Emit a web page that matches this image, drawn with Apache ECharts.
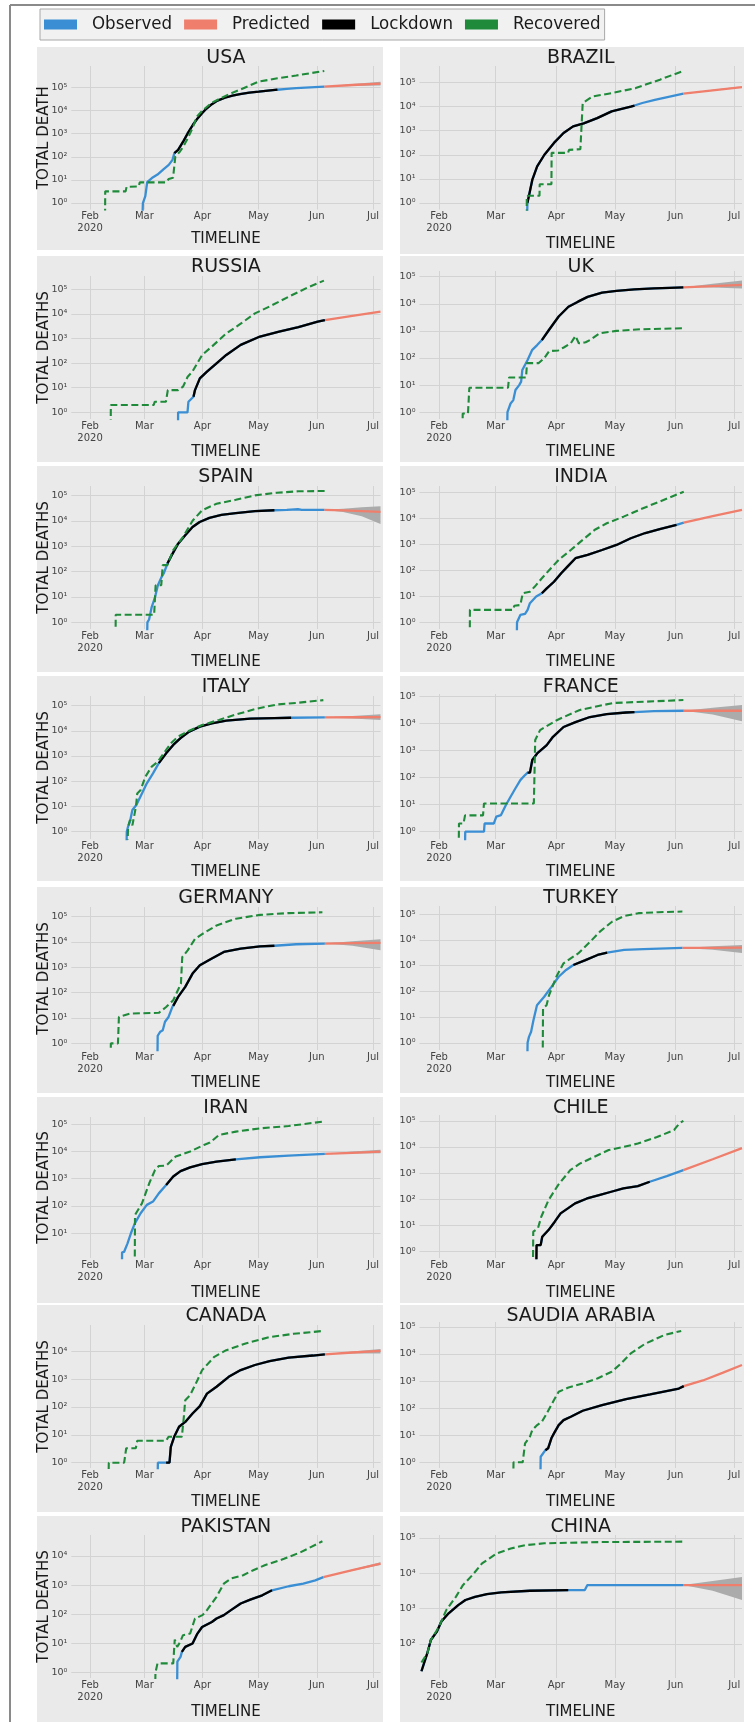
<!DOCTYPE html>
<html><head><meta charset="utf-8">
<script src="https://cdn.jsdelivr.net/npm/echarts@6/dist/echarts.min.js"></script>
<style>html,body{margin:0;padding:0;background:#fff}#c{width:755px;height:1722px}</style>
</head><body><div id="c"></div>
<script>
// x values: days since 2020-02-01 ; y values: cumulative counts
const DAY0 = Date.UTC(2020, 1, 1);
const countries = ['USA','BRAZIL','RUSSIA','UK','SPAIN','INDIA','ITALY','FRANCE','GERMANY','TURKEY','IRAN','CHILE','CANADA','SAUDIA ARABIA','PAKISTAN','CHINA'];
const seriesNames = ['Observed','Predicted','Lockdown','Recovered'];
const monthLabels = ['Jan','Feb\n2020','Mar','Apr','May','Jun','Jul','Aug'];
const lockdownStart = [45, 45.2, 55.2, 52.6, 41.3, 52.6, 36.7, 45.3, 44.4, 68.7, 40.6, 49.7, 40.6, 54.4, 49, -9];
const lockdownEnd   = [100, 100, 125.3, 125, 98.4, 121.5, 107.3, 100, 98.4, 86, 77.8, 107.8, 125.3, 125.2, 97.1, 66.1];

const USA_obs = [[27.8,0.1],[28.2,1],[29.5,2],[30.5,8],[33,12],[36,17],[39,28],[42,45],[44,74],[45,145],[47,200],[50,500],[52,1000],[55,2500],[57,4200],[60,8000],[62,12000],[65,19000],[68,27000],[72,36000],[76,44000],[80,52000],[85,60000],[90,66000],[95,73000],[100,80000],[105,87000],[110,93000],[115,98000],[120,103000],[125,108000]];
const USA_rec = [[8,0.1],[8.1,3.2],[19,3.2],[19.5,5],[26,5.2],[26.5,7.8],[40.5,7.8],[42,11],[44.3,12.5],[45.5,100],[48,170],[50,300],[52,600],[55,2000],[57,5500],[60,10000],[65,22000],[70,35000],[75,55000],[80,80000],[85,120000],[90,180000],[95,210000],[100,250000],[110,330000],[118,420000],[125,520000]];
const USA_pred = [[125,108000],[140,128000],[155,148000]];
const USA_band = [[125,108000,108000],[140,115000,140000],[155,122000,175000]];

const BRAZIL_obs = [[45,0.1],[45.2,1],[46,2],[47.7,9],[50.2,33],[53.9,100],[58.8,310],[63.7,800],[68.6,1500],[74,2000],[80.9,3300],[88.3,6300],[98.1,10000],[100,11000],[104,14000],[110.4,19000],[118,26000],[125,34000]];
const BRAZIL_rec = [[44.8,0.1],[44.9,2],[51.4,2],[51.5,6],[57.5,6],[57.6,120],[66,120],[66.5,160],[72.3,170],[73.5,14000],[78.5,26000],[88.3,36000],[100.6,58000],[113,130000],[125,300000]];
const BRAZIL_pred = [[125,34000],[140,47000],[155,64000]];
const BRAZIL_band = [[125,34000,34000],[140,45000,49000],[155,59000,69000]];

const RUSSIA_obs = [[46.9,0.1],[47,1],[52,1],[52.5,2.7],[55.2,4.3],[56,8],[58.6,24],[62.4,45],[67.5,98],[72.7,215],[80.4,550],[90.7,1200],[100.9,1900],[111.2,2900],[121.5,4900],[125.3,5600]];
const RUSSIA_rec = [[11,0.1],[11.1,2],[34,2],[34.5,2.7],[40.5,2.7],[41.5,8],[47,8],[49.6,11],[52.1,28],[54.6,45],[57.2,98],[59.8,215],[65,470],[72.7,1600],[80.4,4000],[88,10500],[95.8,20000],[106,50000],[116.3,120000],[124.8,225000]];
const RUSSIA_pred = [[125.3,5600],[140,8300],[155,12300]];
const RUSSIA_band = [[125.3,5600,5600],[140,8000,8600],[155,11500,13200]];

const UK_obs = [[34.8,0.1],[35,1],[36.6,2.1],[38,2.8],[39.1,6.6],[41,10],[42,13.5],[42.6,36],[45.3,85],[47.7,200],[50.2,300],[52.6,460],[56.3,1100],[61.2,3400],[66.2,7800],[71.1,12000],[76,18000],[83.4,26000],[90.8,30000],[100,34000],[110,37000],[118,39000],[125,40500]];
const UK_rec = [[12,0.1],[12.1,0.9],[14.8,0.9],[15.5,8],[35.3,8],[35.8,19],[44.5,19],[45,65],[51,65],[53.9,100],[56.3,180],[61,190],[64,250],[67.4,350],[69.8,650],[71.5,350],[75,380],[77.2,460],[82.1,820],[90.8,1000],[103,1150],[125,1250]];
const UK_pred = [[125,40500],[140,45000],[155,50000]];
const UK_band = [[125,40500,40500],[140,40000,55000],[155,37000,72000]];

const SPAIN_obs = [[30.4,0.1],[30.6,1],[31.5,1.3],[32.9,4],[34.7,10],[36.2,29],[38,58],[39.3,84],[41.3,207],[43.1,380],[47,1260],[50.8,2700],[54.7,5700],[58.5,9000],[63.7,13000],[70.1,17000],[77.8,20000],[88,24000],[98.4,26000],[105,27000],[111,28500],[113,27100],[125,27100]];
const SPAIN_rec = [[13.6,0.1],[13.7,2],[34.2,2],[35,29],[38,29],[38.8,180],[41.3,180],[44.4,700],[49.6,2300],[54.7,10000],[59.8,26000],[67.5,47000],[77.8,67000],[88,100000],[99.6,127000],[111.2,145000],[125.3,150000]];
const SPAIN_pred = [[125,27100],[135,25500],[145,24000],[155,22500]];
const SPAIN_band = [[125,27100,27100],[135,22000,30000],[145,15000,34000],[155,7500,37000]];

const INDIA_obs = [[39.7,0.1],[39.9,1],[41.6,1.9],[44,2.1],[45.3,3],[46.5,5.4],[49.7,9.7],[52.6,13],[55.1,20],[58.8,36],[62.5,77],[65.7,138],[69.8,290],[76,390],[83.4,600],[90.8,940],[98.1,1700],[105.5,2700],[112.9,3800],[121.5,5600],[125.2,6800]];
const INDIA_rec = [[15.7,0.1],[15.8,3],[37.9,3],[38.5,4.3],[41.6,4.6],[42.8,13],[46.5,15],[49,23.5],[52.6,49],[56.3,100],[61.2,250],[67.4,600],[73.5,1470],[79.7,3600],[85.8,6400],[94.4,11500],[103,22000],[112.9,44000],[125.2,105000]];
const INDIA_pred = [[125.2,6800],[140,12000],[155,21000]];
const INDIA_band = [[125.2,6800,6800],[140,11700,12300],[155,20000,22000]];

const ITALY_obs = [[19.4,0.1],[19.6,1],[20.3,1.6],[21.3,2.5],[22.6,7.2],[24.7,11.4],[27.7,33],[30.3,83],[33.6,205],[36.7,520],[40.6,1280],[44.4,2750],[48.3,5100],[52.9,9300],[58.6,14600],[65,19800],[72.7,25300],[85.5,30500],[98.4,32000],[107.3,33000],[125.3,34000]];
const ITALY_rec = [[19.8,0.1],[20.3,1.6],[21.3,2.9],[22.6,1.8],[23.5,4],[24.5,10],[25.2,33],[27,45],[29.5,150],[32.9,380],[36.2,600],[39.3,1280],[43.1,3200],[47,5900],[52.9,10000],[59.8,17000],[68.8,27000],[77.8,44000],[88,73000],[99.6,110000],[111.2,130000],[124.5,165000]];
const ITALY_pred = [[125.3,34000],[140,34500],[155,35000]];
const ITALY_band = [[125.3,34000,34000],[140,30500,39000],[155,27000,45000]];

const FRANCE_obs = [[13.2,0.1],[13.4,1],[23,1],[23.3,2],[28,2],[29.3,3.6],[31.7,4.1],[34.2,9.6],[36.6,19.5],[39.1,40],[41.6,80],[44,123],[45.3,150],[46.5,150],[47.7,440],[50.2,770],[55.1,1560],[58.3,3170],[63.7,7300],[69.8,11000],[77.2,17000],[85.8,21700],[95.7,25000],[100,26000],[110,28000],[125.2,29000]];
const FRANCE_rec = [[10,0.1],[10.2,2],[12.5,2],[13.3,4],[22.5,4],[23,11],[48.5,11],[49.2,2400],[51.7,5600],[60.2,13000],[72,31000],[89,56000],[106.4,63000],[125,72000]];
const FRANCE_pred = [[125.2,29000],[140,29000],[155,29000]];
const FRANCE_band = [[125.2,29000,29000],[140,21000,37000],[155,12000,47000]];

const GERMANY_obs = [[35.9,0.1],[36.1,2],[37.5,2.9],[38.8,3.3],[40,7.1],[41.9,11],[43.9,27],[44.4,30],[47,68],[50.8,168],[54.7,560],[58.6,1190],[65,2200],[71.4,4000],[80.4,5400],[90.7,6600],[98.4,7000],[110,8000],[125.3,8500]];
const GERMANY_rec = [[11,0.1],[11.1,1],[14.9,1],[15.4,11],[21.3,15],[36.7,16],[40.6,27],[44.4,50],[48.5,225],[49.2,2500],[52.1,4600],[56,13000],[59.8,20000],[67.5,44000],[77.8,81000],[90.7,115000],[106,135000],[124,145000]];
const GERMANY_pred = [[125.3,8500],[140,8800],[155,9000]];
const GERMANY_band = [[125.3,8500,8500],[140,7000,10500],[155,4700,12500]];

const TURKEY_obs = [[45.1,0.1],[45.3,1],[46,1.7],[47.1,2.7],[48.3,7.6],[50.1,29],[53.8,62],[57.5,150],[61.2,370],[65,680],[68.7,1060],[74.9,1650],[81.1,2600],[86,3200],[94.7,4100],[104.6,4400],[124.5,4900]];
const TURKEY_rec = [[53,0.1],[53.2,22],[55,29],[56.3,72],[60,370],[63.7,1240],[71.2,3000],[77.4,8600],[82.3,21000],[88.5,51000],[94.7,85000],[102,110000],[112,120000],[124.5,127000]];
const TURKEY_pred = [[124.5,4900],[140,4950],[155,5000]];
const TURKEY_band = [[124.5,4900,4900],[140,4200,5700],[155,3100,6300]];

const IRAN_obs = [[16.9,0.1],[17.1,2],[18.2,2.1],[20,4.3],[21.8,10],[23.9,23],[27,54],[30.3,110],[33.6,145],[36.7,290],[40.6,590],[44.4,1200],[48.3,1900],[53.4,2600],[59.8,3400],[67.5,4200],[77.8,5100],[90.7,6100],[106,7000],[125.3,8100]];
const IRAN_rec = [[23.8,0.1],[24,47],[27.7,125],[31.6,680],[34.7,2100],[36.7,2900],[40.6,3000],[45.7,6500],[53.4,9900],[61.1,17600],[64,21000],[68.8,40000],[77.8,53000],[90.7,70000],[106,85000],[124,123000]];
const IRAN_pred = [[125.3,8100],[140,8900],[155,9800]];
const IRAN_band = [[125.3,8100,8100],[140,8400,9900],[155,8500,11500]];

const CHILE_obs = [[49.7,0.1],[49.9,1.8],[52,1.8],[52.8,3.7],[56,6.7],[59.2,14],[62.2,29],[65.9,45],[69.6,70],[75.7,108],[81.9,145],[88.1,195],[94.3,260],[101.7,320],[107.8,470],[116.5,770],[125,1300]];
const CHILE_rec = [[48,0.1],[48.2,5.8],[50.6,7.8],[52.3,21.7],[56,93],[60.9,350],[67.1,1300],[72,2300],[79.4,4200],[86.8,7600],[94.3,10000],[101.7,13500],[111.5,24000],[120.2,44000],[121.4,57000],[123,80000],[125,100000]];
const CHILE_pred = [[125,1300],[140,3400],[155,9000]];
const CHILE_band = [[125,1300,1300],[140,3300,3500],[155,8600,9400]];

const CANADA_obs = [[36,0.1],[36.2,1],[40.6,1],[42.4,1],[43.1,3.7],[44.9,8.5],[47.5,19.5],[50.8,29],[54.7,58],[58.6,107],[62.4,300],[67.5,530],[74,1200],[80.4,2100],[88,3200],[95.8,4400],[106,5900],[118.9,7000],[125.3,7700]];
const CANADA_rec = [[9.8,0.1],[10,1],[18.2,1],[19.3,3.3],[24.4,3.3],[25.2,6.1],[40.6,6.1],[41.9,8.5],[49,8.5],[50,40],[50.8,175],[53.4,265],[57.3,910],[59.8,2100],[66.3,6300],[72.7,10900],[83,19000],[95.8,32000],[108.6,42000],[124,53000]];
const CANADA_pred = [[125.3,7700],[140,9000],[155,10200]];
const CANADA_band = [[125.3,7700,7700],[140,8300,9700],[155,8300,12000]];

const SAUDI_obs = [[51.8,0.1],[52,1.6],[54.4,2.8],[55.8,3.3],[57.6,8.1],[58.8,11.7],[61.2,23.7],[63.7,36],[67.4,48],[73.5,80],[83.4,130],[95.7,215],[108,320],[122.7,530],[125.2,650]];
const SAUDI_rec = [[37.9,0.1],[38.1,1],[42.8,1],[44,5],[46.5,8.8],[47.7,15.5],[50.2,23.7],[52.6,31.5],[55.1,64],[58.8,200],[61.2,400],[66.2,580],[73.5,810],[81,1250],[88.3,2200],[93.2,4500],[98.1,10500],[105.5,24000],[115.3,50000],[123.9,71000]];
const SAUDI_pred = [[125.2,650],[135,1050],[145,2000],[155,3900]];
const SAUDI_band = [[125.2,650,650],[135,1030,1070],[145,1950,2050],[155,3750,4050]];

const PAKISTAN_obs = [[46.4,0.1],[46.6,2.4],[48.3,3.5],[49,5.2],[50.8,7.7],[54.7,10],[57.3,22],[59.8,37],[65,55],[67.5,72],[71.4,94],[75.2,140],[80.4,235],[85.5,320],[91.9,450],[97.1,670],[106,920],[113.8,1140],[120.2,1470],[124.5,1900]];
const PAKISTAN_rec = [[34.7,0.1],[34.9,1],[36,2.1],[44.4,2.1],[45.2,13.8],[46.5,7.7],[48,11],[49.6,19.4],[53.4,22],[56,72],[60,94],[62.4,140],[67.5,400],[71.4,1130],[75.2,1700],[81.7,2200],[86.8,3200],[93.2,4800],[103.5,8000],[112.5,13600],[124,32000]];
const PAKISTAN_pred = [[124.5,1900],[140,3300],[155,5500]];
const PAKISTAN_band = [[124.5,1900,1900],[140,3150,3450],[155,4900,6100]];

const CHINA_obs = [[-9,17],[-6,55],[-4.2,130],[-1.2,220],[1.2,430],[4.9,740],[9.8,1260],[13.5,1750],[18.4,2150],[24.5,2560],[31.8,2860],[46.5,3200],[66.1,3330],[74.6,3342],[75.9,4632],[124.8,4634]];
const CHINA_rec = [[-9,30],[-6,55],[-4.2,130],[0,310],[3.7,910],[8.6,2150],[12.2,4600],[17.1,8900],[22,19000],[29.4,36000],[36.7,50000],[44.1,62000],[53.8,70000],[83.2,76000],[124.8,78000]];
const CHINA_pred = [[124.8,4634],[140,4634],[155,4634]];
const CHINA_band = [[124.8,4634,4634],[140,3200,6000],[155,1750,7800]];

// lookup tables built from the named arrays
const OBS  = [USA_obs,BRAZIL_obs,RUSSIA_obs,UK_obs,SPAIN_obs,INDIA_obs,ITALY_obs,FRANCE_obs,GERMANY_obs,TURKEY_obs,IRAN_obs,CHILE_obs,CANADA_obs,SAUDI_obs,PAKISTAN_obs,CHINA_obs];
const REC  = [USA_rec,BRAZIL_rec,RUSSIA_rec,UK_rec,SPAIN_rec,INDIA_rec,ITALY_rec,FRANCE_rec,GERMANY_rec,TURKEY_rec,IRAN_rec,CHILE_rec,CANADA_rec,SAUDI_rec,PAKISTAN_rec,CHINA_rec];
const PRED = [USA_pred,BRAZIL_pred,RUSSIA_pred,UK_pred,SPAIN_pred,INDIA_pred,ITALY_pred,FRANCE_pred,GERMANY_pred,TURKEY_pred,IRAN_pred,CHILE_pred,CANADA_pred,SAUDI_pred,PAKISTAN_pred,CHINA_pred];
const BAND = [USA_band,BRAZIL_band,RUSSIA_band,UK_band,SPAIN_band,INDIA_band,ITALY_band,FRANCE_band,GERMANY_band,TURKEY_band,IRAN_band,CHILE_band,CANADA_band,SAUDI_band,PAKISTAN_band,CHINA_band];

// ---------- layout (pixels) ----------
const rowTop    = [47, 256, 466, 676, 887, 1097, 1305, 1516];
const rowBottom = [250, 462, 672, 881, 1093, 1303, 1512, 1722];
const colPanel  = [[37, 346], [400, 344]];
const colPlot   = [[71.3, 309.2], [419.5, 322.5]];
const plotTop    = [66,66, 276,271, 486,486, 696,694, 907,906, 1117,1115, 1325,1322, 1535,1535];
const plotBottom = [209.5,209.5, 419,419, 629,629, 839,839, 1050,1050, 1258,1258, 1468,1468, 1678,1678];
const logRange = [[-0.28,5.93],[-0.27,5.68],[-0.27,5.54],[-0.25,5.21],[-0.26,5.37],[-0.26,5.24],[-0.29,5.38],[-0.27,5.08],
                  [-0.26,5.37],[-0.28,5.32],[0.095,5.26],[-0.24,5.22],[-0.19,4.94],[-0.21,5.18],[-0.18,4.72],[1.04,5.08]];
const timelineGap = [22,27,26,26,26,26,26,26,26,26,28,28,27,27,27,27];

const COL = {obs:'#3A8FD4', pred:'#EF7F6C', lock:'#000000', rec:'#1F8A3A', band:'#ABABAB', grid:'#D3D3D3', panel:'#EAEAEA'};
const FONT = 'DejaVu Sans';
const DAY = 86400000;
const t = d => DAY0 + d * DAY;
const SUP = ['\u2070','\u00B9','\u00B2','\u00B3','\u2074','\u2075','\u2076'];

function fmtX(v) {
  const d = new Date(v);
  if (d.getUTCDate() !== 1 || d.getUTCHours() !== 0) return '';
  return monthLabels[d.getUTCMonth()] || '';
}
function fmtY(v) {
  const e = Math.log10(v), r = Math.round(e);
  if (Math.abs(e - r) > 1e-6 || r < 0) return '';
  return '10' + SUP[r];
}

const grids = [], xAxes = [], yAxes = [], series = [], titles = [], graphics = [];

countries.forEach((name, i) => {
  const row = Math.floor(i / 2), col = i % 2;
  const [px, pw] = colPanel[col];
  const [gl, gw] = colPlot[col];
  const bottomPanel = (i === 1) ? 254 : rowBottom[row];
  graphics.push({type:'rect', z:-10, silent:true,
    shape:{x:px, y:rowTop[row], width:pw, height:bottomPanel - rowTop[row]},
    style:{fill:COL.panel}});
  titles.push({text:name, left: gl + gw/2, top: rowTop[row] + 2, textAlign:'center', padding:0,
    textStyle:{fontSize:19, fontWeight:'normal', color:'#1a1a1a', fontFamily:FONT}});
  grids.push({left:gl, top:plotTop[i], width:gw, height:plotBottom[i]-plotTop[i], show:false, containLabel:false, outerBoundsMode:'none'});
  xAxes.push({type:'time', gridIndex:i, min:t(-10), max:t(155), splitNumber:6,
    minInterval:30*DAY, maxInterval:30*DAY,
    axisLine:{show:false}, axisTick:{show:false},
    splitLine:{show:true, showMinLine:false, showMaxLine:false, lineStyle:{color:COL.grid, width:1}},
    axisLabel:{formatter:fmtX, fontSize:10, color:'#444', lineHeight:12, margin:1, fontFamily:FONT, hideOverlap:false},
    name:'TIMELINE', nameLocation:'middle', nameGap:timelineGap[i], nameMoveOverlap:false,
    nameTextStyle:{fontSize:15, color:'#1a1a1a', fontFamily:FONT}});
  yAxes.push({type:'log', logBase:10, gridIndex:i, min:Math.pow(10, logRange[i][0]), max:Math.pow(10, logRange[i][1]),
    axisLine:{show:false}, axisTick:{show:false},
    splitLine:{show:true, showMinLine:false, showMaxLine:false, lineStyle:{color:COL.grid, width:1}},
    axisLabel:{formatter:fmtY, fontSize:9.5, color:'#444', margin:4, fontFamily:FONT},
    name: col === 0 ? (i === 0 ? 'TOTAL DEATH' : 'TOTAL DEATHS') : '',
    nameLocation:'middle', nameGap:20, nameRotate:90, nameMoveOverlap:false,
    nameTextStyle:{fontSize:15, color:'#1a1a1a', fontFamily:FONT}});

  const base = {type:'line', xAxisIndex:i, yAxisIndex:i, symbol:'none', showSymbol:false, clip:true, silent:true};
  const band = BAND[i];
  series.push(Object.assign({}, base, {name:'band'+i, stack:'band'+i, z:1,
    data: band.map(b => [t(b[0]), b[1]]), lineStyle:{width:0, opacity:0}, itemStyle:{color:COL.band}}));
  series.push(Object.assign({}, base, {name:'band'+i, stack:'band'+i, z:1,
    data: band.map(b => [t(b[0]), Math.max(b[2]-b[1], b[1]*1e-6)]), lineStyle:{width:0, opacity:0},
    itemStyle:{color:COL.band}, areaStyle:{color:COL.band, opacity:1}}));
  series.push(Object.assign({}, base, {name:'Predicted', z:3, data: PRED[i].map(p => [t(p[0]), p[1]]),
    itemStyle:{color:COL.pred}, lineStyle:{color:COL.pred, width:2.3}}));
  series.push(Object.assign({}, base, {name:'Observed', z:4, data: OBS[i].map(p => [t(p[0]), p[1]]),
    itemStyle:{color:COL.obs}, lineStyle:{color:COL.obs, width:2.3}}));
  const lock = OBS[i].filter(p => p[0] >= lockdownStart[i] - 1e-9 && p[0] <= lockdownEnd[i] + 1e-9);
  series.push(Object.assign({}, base, {name:'Lockdown', z:5, data: lock.map(p => [t(p[0]), p[1]]),
    itemStyle:{color:COL.lock}, lineStyle:{color:COL.lock, width:2.3}}));
  series.push(Object.assign({}, base, {name:'Recovered', z:6, data: REC[i].map(p => [t(p[0]), p[1]]),
    itemStyle:{color:COL.rec}, lineStyle:{color:COL.rec, width:2.1, type:[7,3.5]}}));
});

graphics.push({type:'line', z:20, silent:true, shape:{x1:10, y1:5, x2:755, y2:5}, style:{stroke:'#8a8a8a', lineWidth:2}});
graphics.push({type:'line', z:20, silent:true, shape:{x1:10, y1:5, x2:10, y2:1722}, style:{stroke:'#8a8a8a', lineWidth:2}});

const chart = echarts.init(document.getElementById('c'), null, {renderer:'canvas'});
chart.setOption({
  animation:false,
  useUTC:true,
  backgroundColor:'#ffffff',
  textStyle:{fontFamily:FONT},
  graphic:graphics,
  title:titles,
  legend:{left:40, top:9, padding:[6,4,6,4], itemGap:12, itemWidth:33, itemHeight:10, icon:'rect',
    selectedMode:false, backgroundColor:'#F1F1F1', borderColor:'#A8A8A8', borderWidth:1, borderRadius:0,
    textStyle:{fontSize:18.5, color:'#1a1a1a', fontFamily:"'DejaVu Sans Condensed','DejaVu Sans'", padding:[0,0,0,10]},
    data:seriesNames},
  grid:grids, xAxis:xAxes, yAxis:yAxes, series:series
});
</script></body></html>
